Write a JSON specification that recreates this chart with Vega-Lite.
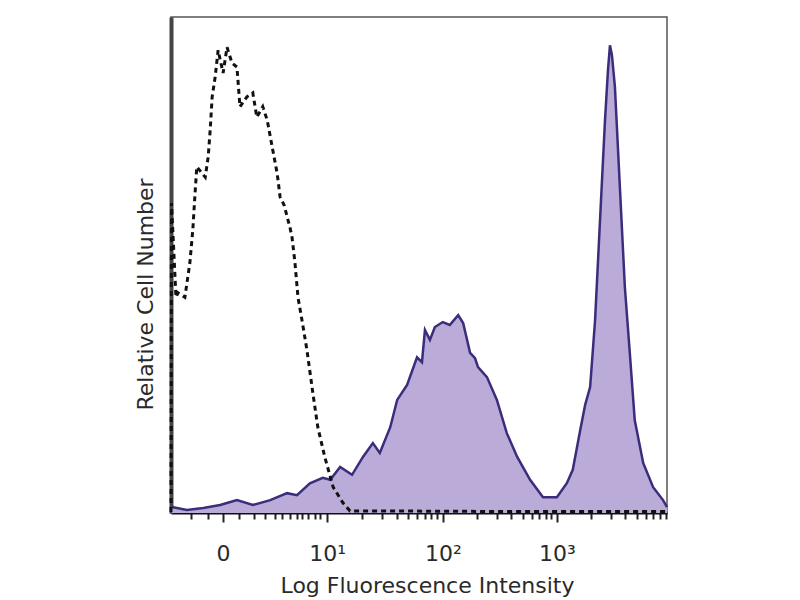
{
  "$schema": "https://vega.github.io/schema/vega-lite/v6.json",
  "autosize": {"type": "none"},
  "padding": {"left": 171, "top": 17, "right": 133, "bottom": 87},
  "width": 496,
  "height": 496,
  "background": "white",
  "config": {
    "view": {"stroke": "#555555", "strokeWidth": 1.5},
    "font": "DejaVu Sans"
  },
  "datasets": {
    "stained": [
      {"channel": 2, "count": 1.2}, {"channel": 32, "count": 0.6}, {"channel": 65, "count": 1.0},
      {"channel": 99, "count": 1.6}, {"channel": 133, "count": 2.6}, {"channel": 165, "count": 1.6},
      {"channel": 200, "count": 2.6}, {"channel": 234, "count": 4.0}, {"channel": 254, "count": 3.6},
      {"channel": 280, "count": 6.0}, {"channel": 306, "count": 7.1}, {"channel": 321, "count": 6.7},
      {"channel": 341, "count": 9.3}, {"channel": 365, "count": 7.7}, {"channel": 387, "count": 11.3},
      {"channel": 407, "count": 14.1}, {"channel": 421, "count": 12.1}, {"channel": 442, "count": 17.3},
      {"channel": 456, "count": 22.8}, {"channel": 476, "count": 25.8}, {"channel": 496, "count": 31.4},
      {"channel": 506, "count": 30.4}, {"channel": 512, "count": 36.9}, {"channel": 522, "count": 34.9},
      {"channel": 532, "count": 37.5}, {"channel": 548, "count": 38.5}, {"channel": 562, "count": 37.9},
      {"channel": 579, "count": 39.9}, {"channel": 589, "count": 38.3}, {"channel": 603, "count": 32.3},
      {"channel": 613, "count": 31.2}, {"channel": 619, "count": 29.4}, {"channel": 637, "count": 27.4},
      {"channel": 657, "count": 22.8}, {"channel": 677, "count": 16.1}, {"channel": 698, "count": 11.3},
      {"channel": 724, "count": 6.7}, {"channel": 750, "count": 3.2}, {"channel": 778, "count": 3.2},
      {"channel": 798, "count": 6.0}, {"channel": 810, "count": 8.7}, {"channel": 825, "count": 16.7},
      {"channel": 835, "count": 21.8}, {"channel": 845, "count": 25.4}, {"channel": 855, "count": 38.9},
      {"channel": 865, "count": 59.1}, {"channel": 875, "count": 79.2}, {"channel": 881, "count": 89.3},
      {"channel": 885, "count": 94.3}, {"channel": 889, "count": 92.3}, {"channel": 895, "count": 85.9},
      {"channel": 905, "count": 65.7}, {"channel": 915, "count": 45.6}, {"channel": 925, "count": 32.3},
      {"channel": 935, "count": 18.7}, {"channel": 952, "count": 10.1}, {"channel": 972, "count": 5.2},
      {"channel": 992, "count": 2.6}, {"channel": 1000, "count": 1.2}
    ],
    "isotype": [
      {"channel": 0, "count": 0.2}, {"channel": 1, "count": 62.5}, {"channel": 10, "count": 43.5},
      {"channel": 14, "count": 44.4}, {"channel": 28, "count": 43.5}, {"channel": 38, "count": 50.4},
      {"channel": 44, "count": 57.1}, {"channel": 48, "count": 63.7}, {"channel": 52, "count": 69.8},
      {"channel": 69, "count": 67.7}, {"channel": 75, "count": 71.8}, {"channel": 79, "count": 77.2},
      {"channel": 83, "count": 83.9}, {"channel": 89, "count": 87.9}, {"channel": 95, "count": 93.3},
      {"channel": 105, "count": 88.7}, {"channel": 113, "count": 93.9}, {"channel": 123, "count": 90.7},
      {"channel": 133, "count": 89.9}, {"channel": 139, "count": 81.9}, {"channel": 153, "count": 83.9},
      {"channel": 165, "count": 84.7}, {"channel": 173, "count": 79.8}, {"channel": 185, "count": 81.9},
      {"channel": 194, "count": 79.2}, {"channel": 204, "count": 73.8}, {"channel": 214, "count": 68.5},
      {"channel": 220, "count": 63.7}, {"channel": 228, "count": 62.1}, {"channel": 240, "count": 57.5},
      {"channel": 244, "count": 55.6}, {"channel": 250, "count": 50.4}, {"channel": 256, "count": 43.5},
      {"channel": 264, "count": 38.9}, {"channel": 274, "count": 32.9}, {"channel": 286, "count": 24.2},
      {"channel": 296, "count": 17.3}, {"channel": 310, "count": 11.3}, {"channel": 327, "count": 5.2},
      {"channel": 347, "count": 2.0}, {"channel": 361, "count": 0.4}, {"channel": 462, "count": 0.4},
      {"channel": 663, "count": 0.3}, {"channel": 1000, "count": 0.3}
    ]
  },
  "encoding": {
    "x": {
      "field": "channel",
      "type": "quantitative",
      "scale": {"domain": [0, 1000], "nice": false, "zero": false},
      "axis": {
        "title": "Log Fluorescence Intensity",
        "titleFont": "DejaVu Sans",
        "titleFontSize": 22,
        "titleFontWeight": "normal",
        "titleColor": "#2a2a2a",
        "titleX": 256,
        "titleY": 72,
        "titleBaseline": "middle",
        "titleAlign": "center",
        "grid": false,
        "domainColor": "#111111",
        "domainWidth": 2,
        "tickColor": "#222222",
        "tickWidth": 2,
        "tickSize": {"condition": {"test": "datum.value==105||datum.value==315||datum.value==548||datum.value==778", "value": 9}, "value": 6},
        "values": [40, 75, 105, 137, 167, 190, 210, 224, 240, 254, 264, 276, 290, 300, 315, 385, 426, 455, 478, 496, 512, 525, 537, 548, 617, 658, 686, 709, 727, 742, 756, 767, 778, 847, 888, 916, 939, 957, 972, 986, 997],
        "labelExpr": "datum.value==105?'0':datum.value==315?'10¹':datum.value==548?'10²':datum.value==778?'10³':''",
        "labelFont": "DejaVu Sans",
        "labelFontSize": 22,
        "labelColor": "#2a2a2a",
        "labelPadding": 21,
        "labelOverlap": false,
        "labelFlush": false
      }
    },
    "y": {
      "field": "count",
      "type": "quantitative",
      "scale": {"domain": [0, 100], "nice": false},
      "axis": {
        "title": "Relative Cell Number",
        "titleFont": "DejaVu Sans",
        "titleFontSize": 22,
        "titleFontWeight": "normal",
        "titleColor": "#2a2a2a",
        "titleX": -26,
        "titleY": 277,
        "titleAngle": -90,
        "titleAlign": "center",
        "titleBaseline": "middle",
        "grid": false,
        "ticks": false,
        "labels": false,
        "domainColor": "#444444",
        "domainWidth": 4
      }
    }
  },
  "layer": [
    {
      "data": {"name": "stained"},
      "mark": {"type": "area", "color": "#bbabd9", "opacity": 1}
    },
    {
      "data": {"name": "stained"},
      "mark": {"type": "line", "color": "#3b2d7c", "strokeWidth": 2.5}
    },
    {
      "data": {"name": "isotype"},
      "mark": {"type": "line", "color": "#111111", "strokeWidth": 3, "strokeDash": [5, 4]}
    }
  ]
}
